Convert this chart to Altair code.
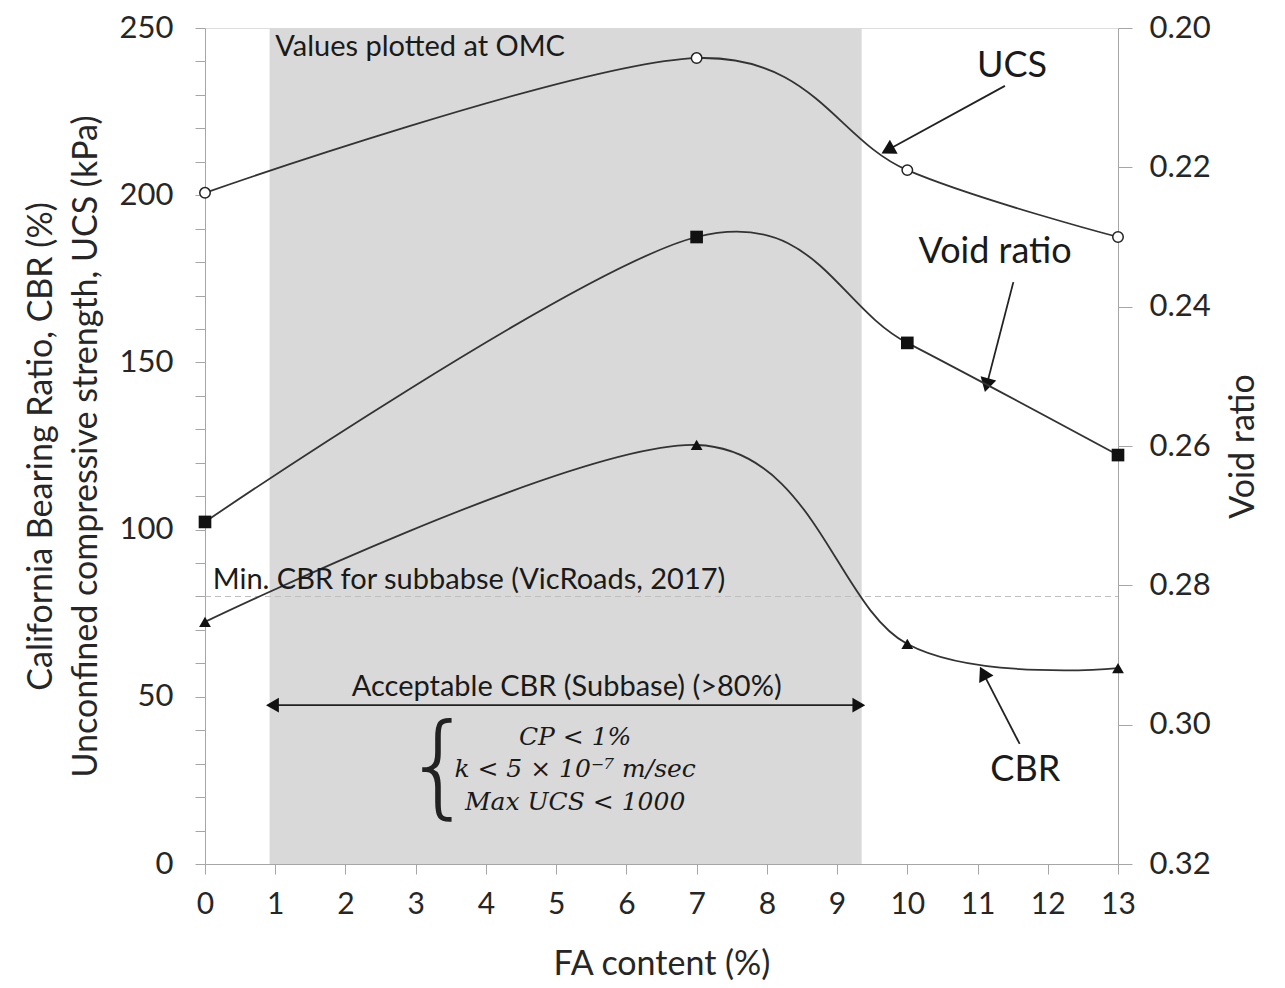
import math
import altair as alt
import pandas as pd

# ---------------- data ----------------
fa = [0, 7, 10, 13]
ucs = [200.7, 241.0, 207.5, 187.5]
cbr = [72.4, 125.3, 65.8, 58.6]
void_ratio = [0.2709, 0.2300, 0.2452, 0.2613]

x_ticks = list(range(0, 14))
left_ticks = list(range(0, 251, 10))
right_ticks = [0.20, 0.22, 0.24, 0.26, 0.28, 0.30, 0.32]

shade_start, shade_end = 0.92, 9.35
min_cbr = 80

label_text = ["UCS", "Void ratio", "CBR"]
label_x = [11.49, 11.25, 11.68]
label_y = [238.6, 183.0, 28.1]

arrow_x1 = [11.39, 11.51, 11.60]
arrow_y1 = [232.7, 174.0, 35.9]
arrow_x2 = [9.72, 11.13, 11.08]
arrow_y2 = [213.5, 143.2, 57.1]

range_arrow_x = [0.96, 9.31]
range_arrow_y = 47.5

note_omc = "Values plotted at OMC"
note_omc_xy = (1.0, 244.3)
note_min = "Min. CBR for subbabse (VicRoads, 2017)"
note_min_xy = (0.11, 85.0)
note_acc = "Acceptable CBR (Subbase) (>80%)"
note_acc_xy = (5.15, 52.9)
math_lines = ["CP < 1%", "k < 5 × 10⁻⁷ m/sec", "Max UCS < 1000"]
math_x = 5.27
math_y = [38.0, 28.3, 18.5]
brace_xy = (3.33, 28.5)

W, H = 913, 836
FONT = "Lato"
XD = [0, 13]
YD = [0, 250]
AX = "#a6a6a6"
TXT = "#262626"

# ---------------- encodings ----------------
x_axis = alt.Axis(values=x_ticks, grid=False, tickSize=10, labelPadding=15,
                  labelFlush=False, titlePadding=28, labelFontSize=30,
                  titleFontSize=34, labelFont=FONT, titleFont=FONT,
                  titleFontWeight="normal", domainColor=AX, tickColor=AX,
                  labelColor=TXT, titleColor=TXT)
y_axis = alt.Axis(values=left_ticks, grid=False, tickSize=10, labelPadding=22,
                  labelFlush=False,
                  labelExpr="datum.value % 50 == 0 ? datum.label : ''",
                  titlePadding=16, labelFontSize=31, titleFontSize=34,
                  titleLineHeight=45, labelFont=FONT, titleFont=FONT,
                  titleFontWeight="normal", domainColor=AX, tickColor=AX,
                  labelColor=TXT, titleColor=TXT)
y_title = ["California Bearing Ratio, CBR (%)",
           "Unconfined compressive strength, UCS (kPa)"]


def X(field):
    return alt.X(f"{field}:Q", scale=alt.Scale(domain=XD, nice=False, zero=False),
                 axis=x_axis, title="FA content (%)")


def X2(field):
    return alt.X2(f"{field}:Q")


def YL(field):
    return alt.Y(f"{field}:Q", scale=alt.Scale(domain=YD, nice=False),
                 axis=y_axis, title=y_title)


def Y2(field):
    return alt.Y2(f"{field}:Q")


# ---------------- left-scale layers ----------------
shade = alt.Chart(pd.DataFrame({"x": [shade_start], "x2": [shade_end],
                                "y": [YD[0]], "y2": [YD[1]]})).mark_rect(
    color="#d9d9d9").encode(x=X("x"), x2=X2("x2"), y=YL("y"), y2=Y2("y2"))

min_line = alt.Chart(pd.DataFrame({"x": [XD[0]], "x2": [XD[1]],
                                   "y": [min_cbr]})).mark_rule(
    color="#bfbfbf", strokeDash=[6, 4], strokeWidth=1.2).encode(
    x=X("x"), x2=X2("x2"), y=YL("y"))

df_main = pd.DataFrame({"x": fa, "ucs": ucs, "cbr": cbr})

line_kw = dict(interpolate="cardinal", color="#333333", strokeWidth=1.8)
ucs_line = alt.Chart(df_main).mark_line(**line_kw).encode(x=X("x"), y=YL("ucs"))
cbr_line = alt.Chart(df_main).mark_line(**line_kw).encode(x=X("x"), y=YL("cbr"))

ucs_pts = alt.Chart(df_main).mark_point(shape="circle", filled=True, fill="white",
                                        stroke="#222222", strokeWidth=1.5,
                                        size=110, opacity=1).encode(
    x=X("x"), y=YL("ucs"))
cbr_pts = alt.Chart(df_main).mark_point(shape="triangle-up", filled=True,
                                        color="#111111", size=140,
                                        opacity=1).encode(x=X("x"), y=YL("cbr"))

# arrows
angles = []
for a, b, c, d in zip(arrow_x1, arrow_y1, arrow_x2, arrow_y2):
    dx = (c - a) * W / (XD[1] - XD[0])
    dy = -(d - b) * H / (YD[1] - YD[0])
    angles.append(math.degrees(math.atan2(dx, -dy)) % 360)

df_arrows = pd.DataFrame({"x": arrow_x1, "y": arrow_y1, "x2": arrow_x2,
                          "y2": arrow_y2, "angle": angles})
arrow_lines = alt.Chart(df_arrows).mark_rule(color="#222222", strokeWidth=1.8).encode(
    x=X("x"), y=YL("y"), x2=X2("x2"), y2=Y2("y2"))
arrow_heads = alt.Chart(df_arrows).mark_point(shape="triangle-up", filled=True,
                                              color="#111111", size=260,
                                              opacity=1).encode(
    x=X("x2"), y=YL("y2"), angle=alt.Angle("angle:Q", scale=None))

df_range = pd.DataFrame({"x": [range_arrow_x[0]], "x2": [range_arrow_x[1]],
                         "y": [range_arrow_y]})
range_line = alt.Chart(df_range).mark_rule(color="#222222", strokeWidth=1.8).encode(
    x=X("x"), x2=X2("x2"), y=YL("y"))
df_range_heads = pd.DataFrame({"x": range_arrow_x, "y": [range_arrow_y] * 2,
                               "angle": [270, 90]})
range_heads = alt.Chart(df_range_heads).mark_point(shape="triangle-up", filled=True,
                                                   color="#111111", size=220,
                                                   opacity=1).encode(
    x=X("x"), y=YL("y"), angle=alt.Angle("angle:Q", scale=None))

# texts
df_labels = pd.DataFrame({"x": label_x, "y": label_y, "t": label_text})
big_labels = alt.Chart(df_labels).mark_text(font=FONT, fontSize=36, color="#1a1a1a",
                                            align="center", baseline="middle").encode(
    x=X("x"), y=YL("y"), text="t:N")


def note(text, xy, align, size=29):
    return alt.Chart(pd.DataFrame({"x": [xy[0]], "y": [xy[1]], "t": [text]})).mark_text(
        font=FONT, fontSize=size, color="#1a1a1a", align=align,
        baseline="middle").encode(x=X("x"), y=YL("y"), text="t:N")


omc_text = note(note_omc, note_omc_xy, "left", 29)
min_text = note(note_min, note_min_xy, "left", 29)
acc_text = note(note_acc, note_acc_xy, "center", 29)

df_math = pd.DataFrame({"x": [math_x] * 3, "y": math_y, "t": math_lines})
math_text = alt.Chart(df_math).mark_text(font="DejaVu Serif", fontStyle="italic",
                                         fontSize=25, color="#1a1a1a", align="center",
                                         baseline="middle").encode(
    x=X("x"), y=YL("y"), text="t:N")
brace = alt.Chart(pd.DataFrame({"x": [brace_xy[0]], "y": [brace_xy[1]], "t": ["{"]})).mark_text(
    font="DejaVu Sans", fontWeight=200, fontSize=112, color="#222222", align="center",
    baseline="middle").encode(x=X("x"), y=YL("y"), text="t:N")

left = alt.layer(shade, min_line, ucs_line, cbr_line, ucs_pts, cbr_pts,
                 arrow_lines, arrow_heads, range_line, range_heads,
                 big_labels, omc_text, min_text, acc_text, math_text, brace)

# ---------------- right-scale layers ----------------
right_axis = alt.Axis(orient="right", values=right_ticks, format=".2f", grid=False,
                      tickSize=14, labelPadding=17, labelFlush=False,
                      titlePadding=16, titleAngle=270, titleBaseline="top",
                      labelFontSize=31, titleFontSize=34,
                      labelFont=FONT, titleFont=FONT, titleFontWeight="normal",
                      domainColor=AX, tickColor=AX,
                      labelColor=TXT, titleColor=TXT)
df_void = pd.DataFrame({"x": fa, "v": void_ratio})
YR = alt.Y("v:Q", scale=alt.Scale(domain=[0.20, 0.32], reverse=True, nice=False,
                                  zero=False), axis=right_axis, title="Void ratio")
void_line = alt.Chart(df_void).mark_line(**line_kw).encode(x=X("x"), y=YR)
void_pts = alt.Chart(df_void).mark_point(shape="square", filled=True, color="#111111",
                                         size=160, opacity=1).encode(x=X("x"), y=YR)
right = alt.layer(void_line, void_pts)

chart = alt.layer(left, right).resolve_scale(y="independent").properties(
    width=W, height=H,
    autosize=alt.AutoSizeParams(type="none"),
    padding={"left": 197, "top": 20, "right": 158, "bottom": 116},
).configure_view(stroke=AX, strokeWidth=1).configure(background="white")

chart.save("out.html", embed_options={"renderer": "svg", "actions": False})
